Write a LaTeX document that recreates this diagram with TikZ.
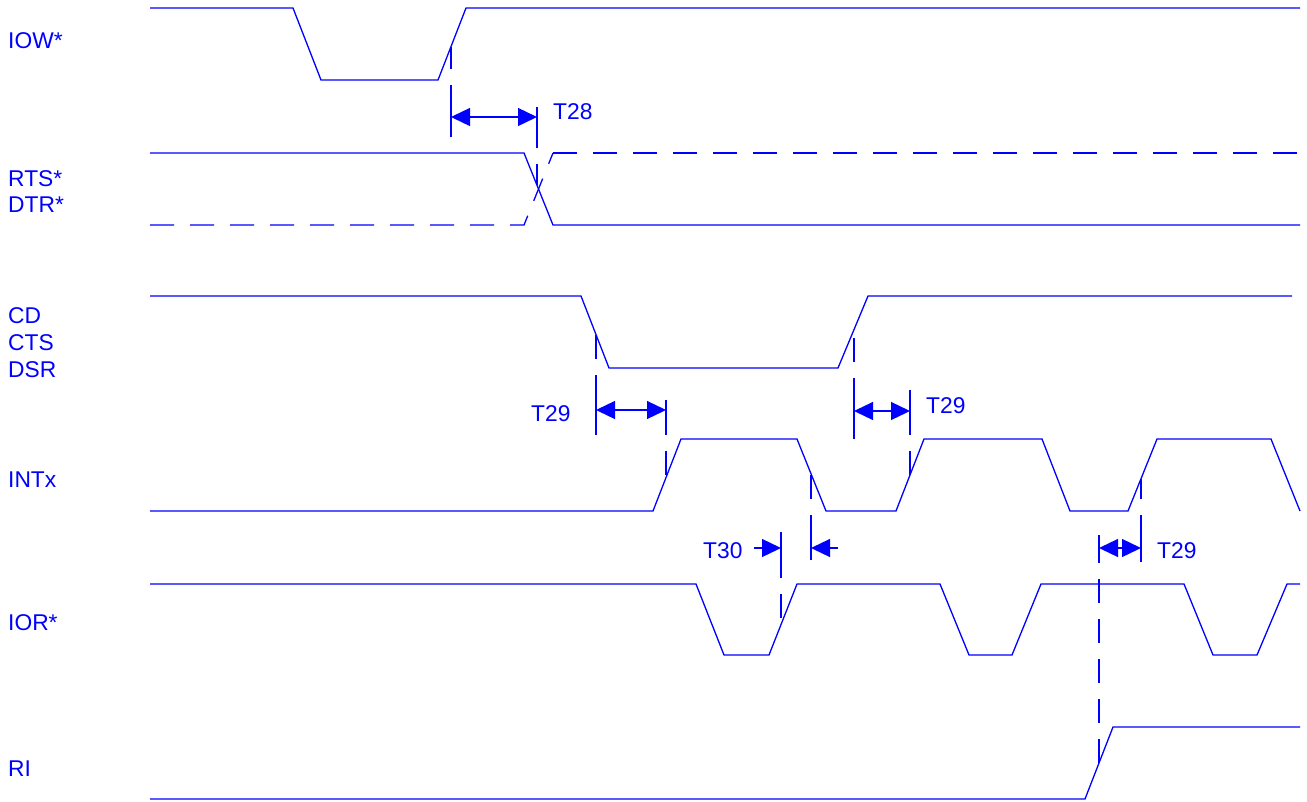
\documentclass[tikz,border=0pt]{standalone}
\usepackage{fontspec}
\setmainfont{Liberation Sans}
\usetikzlibrary{arrows.meta,positioning}
\definecolor{wireblue}{RGB}{0,0,255}
\tikzset{
    %Define standard arrow tip
    >={Triangle[length=19pt,width=18pt]},
    %Define style for waveforms
    wave/.style={
           draw=wireblue,
           line width=1.3pt,
           line join=miter},
    dwave/.style={wave, dash pattern=on 24pt off 16pt},
    % extension line, starts with a gap at the tick
    extn/.style={wave, dash pattern=on 24pt off 16pt, dash phase=24pt},
    % Define arrow style
    dimn/.style={wave, <->},
    signame/.style={
           text=wireblue,
           font=\fontsize{22.8}{27}\selectfont,
           anchor=base west,
           inner sep=0pt}
}

\begin{document}
\begin{tikzpicture}[x=1pt, y=-1pt]
 \useasboundingbox (0,0) rectangle (1307,801);
 %signal names
 \node[signame] (iow) at (8,48) {IOW*};
 \node[signame] (rts) at (8,186) {RTS*};
 \node[signame] (dtr) at (8,212) {DTR*};
 \node[signame] (cd) at (8,323) {CD};
 \node[signame] (cts) at (8,350) {CTS};
 \node[signame] (dsr) at (8,377) {DSR};
 \node[signame] (intx) at (8,487) {INTx};
 \node[signame] (ior) at (8,630) {IOR*};
 \node[signame] (ri) at (8,776) {RI};
 %waveforms
 \draw[wave] (150,8) -- (293,8) -- (321,80) -- (438,80) -- (466,8) -- (1300,8);
 \draw[wave] (150,153) -- (524,153) -- (553,225) -- (1300,225);
 \draw[dwave] (150,225) -- (524,225) -- (553,153);
 \draw[dwave] (553,153) -- (1300,153);
 \draw[wave] (150,296) -- (581,296) -- (609,368) -- (838,368) -- (868,296) -- (1292,296);
 \draw[wave] (150,511) -- (653,511) -- (681,439) -- (797,439) -- (826,511) -- (896,511)
   -- (924,439) -- (1042,439) -- (1070,511) -- (1128,511) -- (1157,439) -- (1271,439) -- (1300,511);
 \draw[wave] (150,584) -- (696,584) -- (724,655) -- (769,655) -- (797,584) -- (940,584)
   -- (969,655) -- (1012,655) -- (1041,584) -- (1184,584) -- (1213,655) -- (1257,655) -- (1287,584) -- (1300,584);
 \draw[wave] (150,799) -- (1085,799) -- (1113,727) -- (1300,727);
 %ticks: x / far end / near end / edge
 \foreach \x/\tf/\tn/\e in {451/137/85/47, 537/107/148/185, 596/435/375/335,
     666/400/435/478, 854/439/378/330, 910/390/435/475, 781/532/578/625,
     811/560/515/474, 1099/535/563/763, 1141/562/515/479}
 {
   \draw[wave] (\x,\tf) -- (\x,\tn);
   \draw[extn] (\x,\tn) -- (\x,\e);
 }
 %timing arrows
 \coordinate (t28l) at (451,117);
 \coordinate (t28r) at (537,117);
 \coordinate (t29al) at (596,410);
 \coordinate (t29ar) at (666,410);
 \coordinate (t29bl) at (854,411);
 \coordinate (t29br) at (910,411);
 \coordinate (t30l) at (754,548);
 \coordinate (t30lt) at (781,548);
 \coordinate (t30r) at (838,548);
 \coordinate (t30rt) at (811,548);
 \coordinate (t29cl) at (1099,548);
 \coordinate (t29cr) at (1141,548);
 \draw[dimn] (t28l) -- (t28r);
 \draw[dimn] (t29al) -- (t29ar);
 \draw[dimn] (t29bl) -- (t29br);
 \draw[wave,->] (t30l) -- (t30lt);
 \draw[wave,->] (t30r) -- (t30rt);
 \draw[dimn] (t29cl) -- (t29cr);
 \node[signame] (t28) at (553,119) {T28};
 \node[signame] (t29a) at (531,421) {T29};
 \node[signame] (t29b) at (926,413) {T29};
 \node[signame] (t30) at (703,558) {T30};
 \node[signame] (t29c) at (1157,558) {T29};
\end{tikzpicture}
\end{document}
